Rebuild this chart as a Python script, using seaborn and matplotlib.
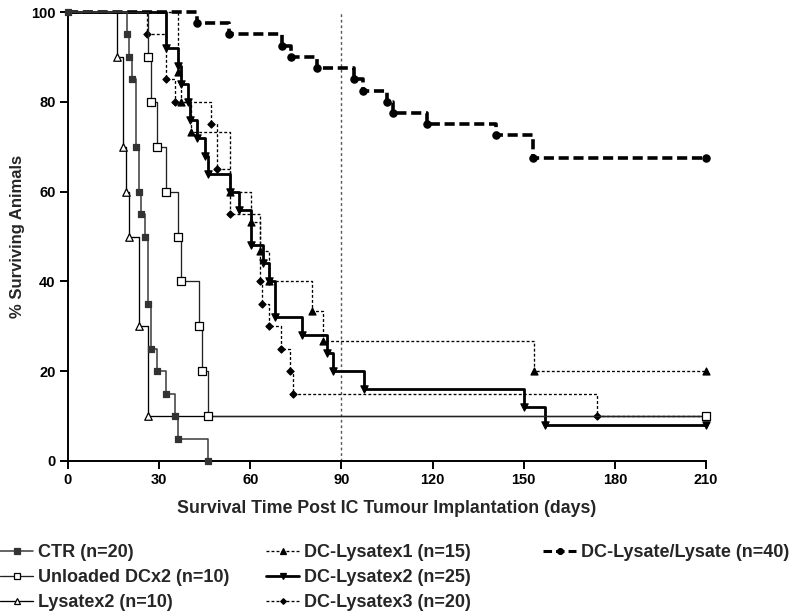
import numpy as np
import pandas as pd
import matplotlib
matplotlib.use("Agg")
import matplotlib.pyplot as plt
import seaborn as sns
from matplotlib.lines import Line2D

# ---------------- data ----------------
ctr_days = [0, 19.3, 20.1, 21, 22.3, 23.3, 24.1, 25.2, 26.2, 27.2, 29.3, 32.2, 35.3, 36.2, 46.2]
ctr_surv = [100, 95, 90, 85, 70, 60, 55, 50, 35, 25, 20, 15, 10, 5, 0]

unloaded_days = [0, 26.2, 27.2, 29.2, 32.2, 36.1, 37.2, 43.2, 44.2, 46.2, 210]
unloaded_surv = [100, 90, 80, 70, 60, 50, 40, 30, 20, 10, 10]

lys2_days = [0, 16, 18.2, 19.1, 20.2, 23.3, 26.2, 210]
lys2_surv = [100, 90, 70, 60, 50, 30, 10, 10]

dcl1_days = [0, 36.3, 37.1, 40.4, 53.3, 60.2, 63.3, 66.2, 80.2, 84, 153.3, 210]
dcl1_surv = [100, 86.7, 80, 73.3, 60, 53.3, 46.7, 40, 33.3, 26.7, 20, 20]

dcl2_days = [0, 32.2, 36.3, 37.3, 39.4, 40.1, 42.3, 45.1, 46.2, 53.3, 56.3, 60.2, 64.3,
             66.2, 68.1, 77.1, 85.3, 87.3, 97.4, 150.1, 157.1, 210]
dcl2_surv = [100, 92, 88, 84, 80, 76, 72, 68, 64, 60, 56, 48, 44,
             40, 32, 28, 24, 20, 16, 12, 8, 8]

dcl3_days = [0, 26.1, 32.2, 35.2, 47, 49.2, 53.3, 63.2, 64, 66.2, 70.1, 73.2, 74.1, 174.2, 210]
dcl3_surv = [100, 95, 85, 80, 75, 65, 55, 40, 35, 30, 25, 20, 15, 10, 10]

dcll_days = [0, 42.3, 53, 70.4, 73.5, 82.1, 94.1, 97.1, 105, 107, 118.2, 141, 153, 210]
dcll_surv = [100, 97.5, 95, 92.5, 90, 87.5, 85, 82.5, 80, 77.5, 75, 72.5, 67.5, 67.5]

x_ticks = [0, 30, 60, 90, 120, 150, 180, 210]
y_ticks = [0, 20, 40, 60, 80, 100]
ref_day = 90

labels = ["CTR (n=20)", "Unloaded DCx2 (n=10)", "Lysatex2 (n=10)",
          "DC-Lysatex1 (n=15)", "DC-Lysatex2 (n=25)", "DC-Lysatex3 (n=20)",
          "DC-Lysate/Lysate (n=40)"]

# ---------------- style ----------------
sns.set_theme(style="ticks")
plt.rcParams["font.family"] = ["Liberation Sans", "DejaVu Sans"]
plt.rcParams["font.weight"] = "bold"

fs_tick = 10.5
fs_xlabel = 12.8
fs_ylabel = 12
fs_leg = 13

fig = plt.figure(figsize=(7.9, 6.14), dpi=100)
ax = fig.add_axes([68 / 790, 1 - 461 / 614, (706 - 68) / 790, (461 - 12) / 614])

thin = 0.95
series = [
    # days, surv, line color, lw, linestyle, marker, msize, face, edge, start marker, label
    (dcll_days, dcll_surv, "black", 2.6, (0, (2.8, 1.3)), "o", 5.2, "black", "black", False, labels[6]),
    (dcl3_days, dcl3_surv, "black", thin, (0, (2.2, 1.6)), "D", 3.6, "black", "black", False, labels[5]),
    (dcl1_days, dcl1_surv, "black", thin, (0, (2.2, 1.6)), "^", 5.0, "black", "black", False, labels[3]),
    (dcl2_days, dcl2_surv, "black", 2.0, "-", "v", 5.2, "black", "black", False, labels[4]),
    (lys2_days, lys2_surv, "black", thin, "-", "^", 5.4, "white", "black", False, labels[2]),
    (unloaded_days, unloaded_surv, "#222222", thin, "-", "s", 5.2, "white", "black", False, labels[1]),
    (ctr_days, ctr_surv, "#3a3a3a", 1.1, "-", "s", 5.0, "#333333", "#333333", True, labels[0]),
]

ax.axvline(ref_day, color="#555555", lw=1.0, ls=(0, (2, 2)), zorder=1)

z = 3
for days, surv, col, lw, ls, mk, ms, fc, ec, start, lab in series:
    df = pd.DataFrame({"day": days, "surv": surv})
    sns.lineplot(data=df, x="day", y="surv", ax=ax, estimator=None, sort=False,
                 drawstyle="steps-post", color=col, lw=lw, linestyle=ls,
                 legend=False, zorder=z, clip_on=False)
    pts = df if start else df.iloc[1:]
    sns.scatterplot(data=pts, x="day", y="surv", ax=ax, marker=mk, s=ms ** 2,
                    color=fc, edgecolor=ec, linewidth=0.9, legend=False,
                    zorder=z + 0.5, clip_on=False)
    z += 1

ax.set_xlim(0, 210)
ax.set_ylim(0, 100)
ax.set_xticks(x_ticks)
ax.set_yticks(y_ticks)
ax.tick_params(axis="both", direction="out", length=6, width=1.4, colors="black",
               labelsize=fs_tick, pad=3)
for t in ax.get_xticklabels() + ax.get_yticklabels():
    t.set_fontweight("bold")
sns.despine(ax=ax)
for s in ("left", "bottom"):
    ax.spines[s].set_linewidth(1.4)
    ax.spines[s].set_color("black")

ax.set_xlabel("Survival Time Post IC Tumour Implantation (days)", fontsize=fs_xlabel,
              fontweight="bold", labelpad=9)
ax.set_ylabel("% Surviving Animals", fontsize=fs_ylabel, fontweight="bold", labelpad=4)

# ---------------- legend (three columns) ----------------
handles = {}
for days, surv, col, lw, ls, mk, ms, fc, ec, start, lab in series:
    handles[lab] = Line2D([], [], color=col, lw=min(lw, 2.2), linestyle=ls, marker=mk,
                          markersize=ms * 0.8, markerfacecolor=fc, markeredgecolor=ec,
                          markeredgewidth=0.9)

cols = [(labels[0:3], 0 / 790), (labels[3:6], 266 / 790), (labels[6:7], 543 / 790)]
for labs, x0 in cols:
    leg = fig.legend([handles[l] for l in labs], labs, loc="upper left",
                     bbox_to_anchor=(x0, 1 - 544 / 614), frameon=False, borderpad=0,
                     borderaxespad=0, handlelength=1.85, handletextpad=0.28,
                     labelspacing=0.45, fontsize=fs_leg, numpoints=1)
    for t in leg.get_texts():
        t.set_fontweight("bold")

fig.savefig("out.png", dpi=100)
